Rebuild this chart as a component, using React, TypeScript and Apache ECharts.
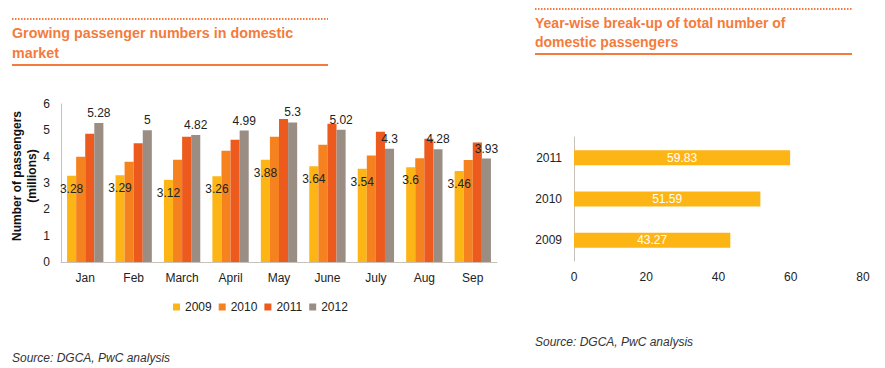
import React, { useEffect, useRef } from "react";
import * as echarts from "echarts";

const months = ["Jan", "Feb", "March", "April", "May", "June", "July", "Aug", "Sep"];
const years = ["2009", "2010", "2011", "2012"];
const v2009 = [3.28, 3.29, 3.12, 3.26, 3.88, 3.64, 3.54, 3.6, 3.46];
const v2010 = [4.0, 3.81, 3.88, 4.22, 4.76, 4.45, 4.04, 3.94, 3.87];
const v2011 = [4.87, 4.51, 4.76, 4.64, 5.43, 5.25, 4.95, 4.68, 4.54];
const v2012 = [5.28, 5.0, 4.82, 4.99, 5.3, 5.02, 4.3, 4.28, 3.93];
const yearColors = ["#FDB515", "#F5821F", "#EC5A1E", "#9A8E84"];

const totalYears = ["2009", "2010", "2011"];
const totalValues = [43.27, 51.59, 59.83];

const FONT = "Liberation Sans, Arial, Helvetica, sans-serif";
const TITLE = "#F47B3C";

export default function App() {
  const ref = useRef<HTMLDivElement>(null);
  useEffect(() => {
    document.body.style.margin = "0";
    const chart = echarts.init(ref.current!, undefined, { renderer: "svg" });
    const monthly = [v2009, v2010, v2011, v2012];
    const series: any[] = monthly.map((data, i) => ({
      type: "bar",
      name: years[i],
      xAxisIndex: 0,
      yAxisIndex: 0,
      data,
      barGap: "0%",
      barCategoryGap: "25%",
      itemStyle: { color: yearColors[i] },
      label:
        i === 0
          ? { show: true, position: "insideTop", distance: 7, color: "#222", fontSize: 12, fontFamily: FONT }
          : i === 3
          ? { show: true, position: "top", distance: 4, color: "#222", fontSize: 12, fontFamily: FONT }
          : { show: false },
    }));
    series.push({
      type: "bar",
      name: "total",
      xAxisIndex: 1,
      yAxisIndex: 1,
      data: totalValues,
      barWidth: 15,
      itemStyle: { color: "#FDB515" },
      label: { show: true, position: "inside", color: "#fff", fontSize: 12, fontFamily: FONT },
    });

    const dotted = { stroke: TITLE, lineWidth: 2, lineDash: [1.5, 1.5] };
    const solid = { stroke: TITLE, lineWidth: 2 };

    chart.setOption({
      animation: false,
      textStyle: { fontFamily: FONT },
      grid: [
        { left: 61, top: 104, width: 436, height: 158 },
        { left: 574, top: 137, width: 289, height: 124 },
      ],
      legend: {
        data: years,
        left: 168,
        top: 296,
        icon: "rect",
        itemWidth: 7,
        itemHeight: 7,
        itemGap: 7,
        textStyle: { fontSize: 12, color: "#222", fontFamily: FONT },
      },
      xAxis: [
        {
          type: "category",
          gridIndex: 0,
          data: months,
          axisLine: { lineStyle: { color: "#C8C1BA" } },
          axisTick: { show: false },
          axisLabel: { fontSize: 12, color: "#222", margin: 10 },
        },
        {
          type: "value",
          gridIndex: 1,
          min: 0,
          max: 80,
          interval: 20,
          axisLine: { show: false },
          axisTick: { show: false },
          splitLine: { show: false },
          axisLabel: { fontSize: 12, color: "#222", margin: 10 },
        },
      ],
      yAxis: [
        {
          type: "value",
          gridIndex: 0,
          min: 0,
          max: 6,
          interval: 1,
          axisLine: { show: true, lineStyle: { color: "#C8C1BA" } },
          axisTick: { show: false },
          splitLine: { show: false },
          axisLabel: { fontSize: 12, color: "#222", margin: 11 },
        },
        {
          type: "category",
          gridIndex: 1,
          data: totalYears,
          axisLine: { show: true, lineStyle: { color: "#C8C1BA" } },
          axisTick: { show: false },
          axisLabel: { fontSize: 12, color: "#222", margin: 12 },
        },
      ],
      series,
      graphic: [
        { type: "line", shape: { x1: 12, y1: 19, x2: 328, y2: 19 }, style: dotted },
        {
          type: "text",
          left: 12,
          top: 23,
          style: {
            text: "Growing passenger numbers in domestic\nmarket",
            font: `bold 14.3px ${FONT}`,
            fill: TITLE,
            lineHeight: 20,
          },
        },
        { type: "line", shape: { x1: 12, y1: 65, x2: 328, y2: 65 }, style: solid },
        { type: "line", shape: { x1: 535, y1: 9, x2: 852, y2: 9 }, style: dotted },
        {
          type: "text",
          left: 535,
          top: 13,
          style: {
            text: "Year-wise break-up of total number of\ndomestic passengers",
            font: `bold 14px ${FONT}`,
            fill: TITLE,
            lineHeight: 19,
          },
        },
        { type: "line", shape: { x1: 535, y1: 54, x2: 852, y2: 54 }, style: solid },
        {
          type: "text",
          x: 24,
          y: 176,
          rotation: Math.PI / 2,
          style: {
            text: "Number of passengers\n(millions)",
            font: `bold 12px ${FONT}`,
            fill: "#111",
            align: "center",
            verticalAlign: "middle",
            lineHeight: 15,
          },
        },
        {
          type: "text",
          left: 12,
          top: 352,
          style: { text: "Source: DGCA, PwC analysis", font: `italic 12px ${FONT}`, fill: "#333" },
        },
        {
          type: "text",
          left: 535,
          top: 336,
          style: { text: "Source: DGCA, PwC analysis", font: `italic 12px ${FONT}`, fill: "#333" },
        },
      ],
    });
    return () => chart.dispose();
  }, []);
  return <div ref={ref} style={{ width: 885, height: 368 }} />;
}
